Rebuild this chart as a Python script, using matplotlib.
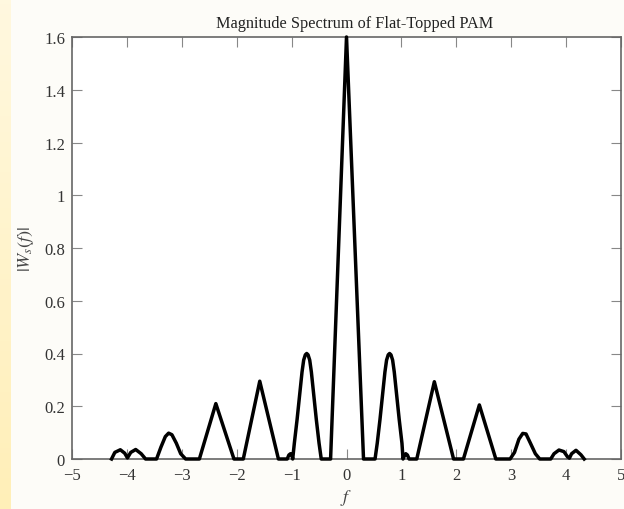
import numpy as np
import matplotlib.pyplot as plt
from matplotlib.colors import LinearSegmentedColormap

plt.rcParams['font.family'] = ['Liberation Serif', 'DejaVu Serif']
plt.rcParams['mathtext.fontset'] = 'stix'

# spectrum (frequency, magnitude)
freq = [-4.28, -4.22, -4.12, -4.04, -3.99, -3.93, -3.84, -3.74, -3.66,
        -3.46, -3.38, -3.30, -3.24, -3.18, -3.10, -3.02, -2.93,
        -2.68, -2.38, -2.05,
        -1.88, -1.58, -1.24,
        -1.08, -1.05, -1.02, -0.99,
        -0.98, -0.95, -0.90, -0.85, -0.81, -0.78, -0.75, -0.725, -0.70, -0.67,
        -0.64, -0.60, -0.55, -0.50, -0.46,
        -0.29, 0.0, 0.31,
        0.52, 0.56, 0.61, 0.66, 0.70, 0.73, 0.76, 0.785, 0.81, 0.84, 0.87,
        0.91, 0.96, 1.01, 1.03,
        1.05, 1.08, 1.11, 1.14,
        1.28, 1.60, 1.95,
        2.13, 2.42, 2.72,
        2.98, 3.06, 3.14, 3.21, 3.27, 3.35, 3.44, 3.52,
        3.72, 3.78, 3.87, 3.96, 4.02, 4.06, 4.10, 4.18, 4.27, 4.33]
mag = [0.0, 0.025, 0.035, 0.022, 0.004, 0.025, 0.036, 0.02, 0.0,
       0.0, 0.045, 0.085, 0.098, 0.092, 0.06, 0.02, 0.0,
       0.0, 0.21, 0.0,
       0.0, 0.295, 0.0,
       0.0, 0.015, 0.02, 0.01,
       0.0, 0.06, 0.15, 0.25, 0.33, 0.375, 0.395, 0.40, 0.395, 0.375,
       0.33, 0.25, 0.15, 0.06, 0.0,
       0.0, 1.6, 0.0,
       0.0, 0.06, 0.15, 0.25, 0.33, 0.375, 0.395, 0.40, 0.395, 0.375, 0.33,
       0.25, 0.15, 0.06, 0.0,
       0.01, 0.02, 0.015, 0.0,
       0.0, 0.293, 0.0,
       0.0, 0.205, 0.0,
       0.0, 0.025, 0.075, 0.097, 0.095, 0.06, 0.02, 0.0,
       0.0, 0.02, 0.034, 0.028, 0.01, 0.003, 0.02, 0.033, 0.016, 0.0]

xticks = [-5, -4, -3, -2, -1, 0, 1, 2, 3, 4, 5]
yticks = [0, 0.2, 0.4, 0.6, 0.8, 1, 1.2, 1.4, 1.6]
ytick_labels = ['0', '0.2', '0.4', '0.6', '0.8', '1', '1.2', '1.4', '1.6']

fig = plt.figure(figsize=(6.24, 5.10), dpi=100)
fig.patch.set_facecolor('#fdfcf8')

# yellowish strip on the left edge
strip = fig.add_axes([0, 0, 11 / 624, 1])
cmap = LinearSegmentedColormap.from_list('strip', ['#fff8df', '#ffefb8'])
strip.imshow(np.linspace(0, 1, 100).reshape(-1, 1), aspect='auto', cmap=cmap)
strip.set_axis_off()

ax = fig.add_axes([72 / 624, 50 / 510, 549 / 624, 422 / 510])
ax.set_facecolor('white')
ax.plot(freq, mag, color='black', lw=2.5, solid_joinstyle='round', zorder=3, clip_on=False)

ax.set_xlim(-5, 5)
ax.set_ylim(0, 1.6)
ax.set_xticks(xticks)
ax.set_yticks(yticks)
ax.set_yticklabels(ytick_labels)

for s in ax.spines.values():
    s.set_color('#666666')
    s.set_linewidth(1.2)
ax.tick_params(direction='in', length=7, width=0.8, color='#888888',
               top=True, right=True, labelsize=12, labelcolor='#333333')
ax.tick_params(axis='x', pad=6)
ax.tick_params(axis='y', pad=5)

ax.set_title('Magnitude Spectrum of Flat-Topped PAM', fontsize=11.7, color='#222222',
             pad=7, x=0.515)
ax.set_xlabel('$f$', fontsize=13, color='#444444', labelpad=3)
ax.set_ylabel('$|W_s(f)|$', fontsize=13, color='#444444', labelpad=6)

fig.savefig('out.png', dpi=100, facecolor=fig.get_facecolor())
